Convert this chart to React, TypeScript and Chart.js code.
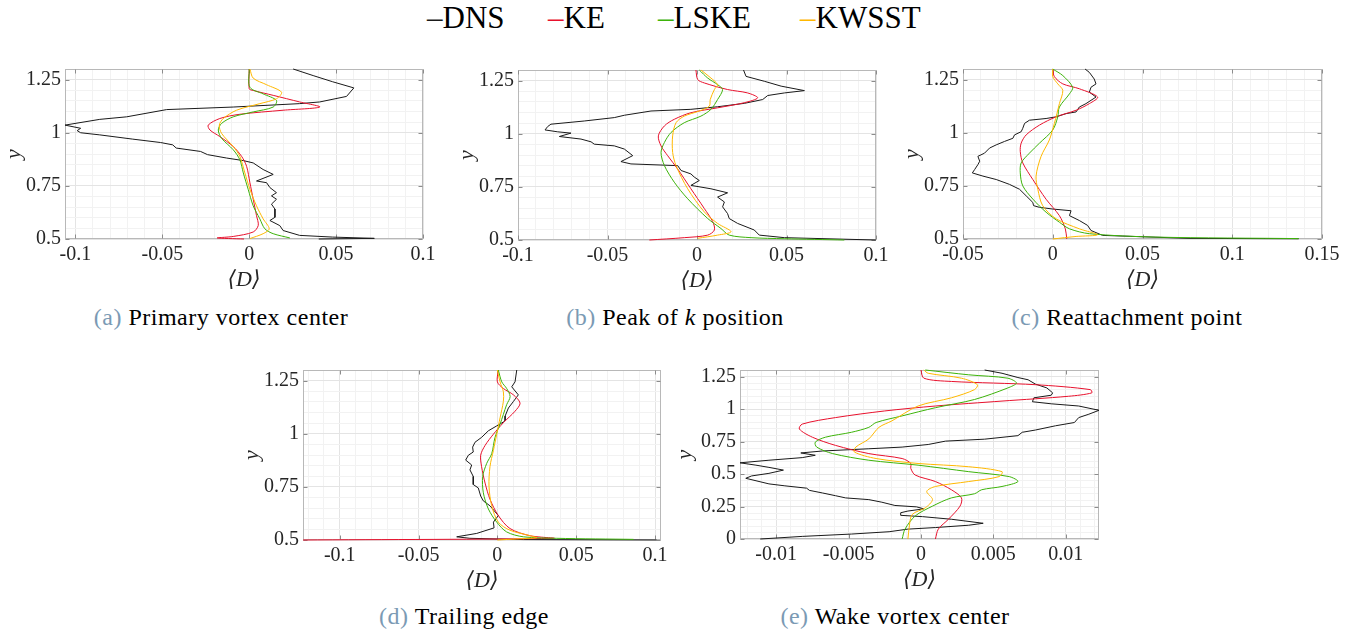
import React, { useEffect, useRef } from 'react';
import { Chart, registerables } from 'chart.js';

Chart.register(...registerables);

type Pt = [number, number]; // [<D>, y]

// ---------------- data ----------------
const SERIES_NAMES = ['DNS', 'KE', 'LSKE', 'KWSST'];

// (a) Primary vortex center
const aDNS: Pt[] = [[0.0253,1.3],[0.0368,1.269],[0.048,1.24],[0.0602,1.211],[0.056,1.171],[0.0406,1.145],[0.029,1.137],[-0.0092,1.121],[-0.0475,1.109],[-0.0705,1.075],[-0.086,1.063],[-0.106,1.036],[-0.097,1.021],[-0.099,1.01],[-0.097,1.0],[-0.086,0.99],[-0.067,0.97],[-0.051,0.954],[-0.044,0.943],[-0.042,0.928],[-0.028,0.912],[-0.024,0.897],[-0.013,0.881],[-0.0034,0.869],[0.0023,0.858],[0.008,0.827],[0.0138,0.804],[0.0042,0.773],[0.01,0.765],[0.0119,0.742],[0.0157,0.718],[0.0128,0.703],[0.0157,0.687],[0.0128,0.664],[0.0148,0.641],[0.0148,0.602],[0.0119,0.587],[0.0176,0.563],[0.0195,0.54],[0.029,0.517],[0.048,0.509],[0.072,0.503],[0.04,0.5]];
const aKE: Pt[] = [[0,1.3],[0,1.207],[0.0023,1.199],[0.0138,1.176],[0.029,1.145],[0.0406,1.121],[0.0195,1.106],[-0.0054,1.087],[-0.0169,1.067],[-0.0236,1.036],[-0.0226,1.013],[-0.0169,0.982],[-0.0092,0.935],[-0.0044,0.889],[-0.0015,0.842],[0.0004,0.765],[0.0023,0.687],[0.0042,0.61],[0.0052,0.564],[0.0023,0.533],[-0.0092,0.512],[-0.0184,0.505],[-0.003,0.5]];
const aLSKE: Pt[] = [[0,1.3],[0.0004,1.214],[0.008,1.183],[0.0157,1.152],[0.0138,1.121],[0.0023,1.098],[-0.0092,1.075],[-0.0159,1.044],[-0.0178,1.013],[-0.0159,0.974],[-0.0092,0.92],[-0.0054,0.873],[-0.0034,0.811],[-0.0006,0.734],[0.0023,0.656],[0.0061,0.595],[0.009,0.548],[0.0138,0.525],[0.0234,0.505]];
const aKWSST: Pt[] = [[0.0004,1.3],[0.0023,1.257],[0.01,1.226],[0.0186,1.191],[0.0157,1.16],[0.0061,1.137],[-0.0073,1.106],[-0.0149,1.067],[-0.0172,1.036],[-0.0159,0.997],[-0.0092,0.935],[-0.0054,0.889],[-0.0025,0.811],[0.0004,0.734],[0.0042,0.656],[0.008,0.595],[0.0115,0.548],[0.008,0.525],[0.0004,0.502]];

// (b) Peak of k position
const bDNS: Pt[] = [[0.026,1.3],[0.0274,1.27],[0.0376,1.247],[0.047,1.224],[0.06,1.203],[0.0488,1.192],[0.0395,1.18],[0.0367,1.161],[0.0264,1.143],[0.0115,1.127],[-0.0034,1.115],[-0.0257,1.107],[-0.0406,1.087],[-0.0462,1.076],[-0.063,1.06],[-0.0816,1.045],[-0.0834,1.034],[-0.0849,1.018],[-0.0778,1.009],[-0.0704,1.003],[-0.0769,0.987],[-0.0648,0.975],[-0.0592,0.962],[-0.0574,0.951],[-0.0462,0.943],[-0.0406,0.928],[-0.0359,0.897],[-0.0425,0.869],[-0.0369,0.858],[-0.0108,0.85],[-0.0089,0.827],[-0.0034,0.811],[-0.0015,0.796],[0.0013,0.78],[-0.0034,0.757],[0.0078,0.741],[0.0171,0.722],[0.0115,0.702],[0.0153,0.679],[0.0143,0.656],[0.0171,0.624],[0.018,0.601],[0.0227,0.578],[0.032,0.547],[0.0348,0.523],[0.0488,0.511],[0.1,0.5]];
const bKE: Pt[] = [[-0.0006,1.3],[0.0004,1.255],[0.0041,1.239],[0.0171,1.208],[0.0283,1.192],[0.0339,1.169],[0.0264,1.146],[0.0115,1.122],[-0.0034,1.099],[-0.0127,1.068],[-0.0182,1.037],[-0.0216,0.99],[-0.0201,0.943],[-0.0164,0.897],[-0.0108,0.834],[-0.0034,0.741],[0.0041,0.648],[0.0088,0.586],[0.0097,0.547],[0.006,0.523],[-0.0071,0.511],[-0.0266,0.5]];
const bLSKE: Pt[] = [[0.0013,1.3],[0.006,1.262],[0.0115,1.231],[0.0143,1.208],[0.0115,1.161],[0.0078,1.115],[0.0022,1.083],[-0.0071,1.052],[-0.0145,1.006],[-0.0182,0.959],[-0.0201,0.912],[-0.0182,0.85],[-0.0127,0.772],[-0.0052,0.694],[0.006,0.601],[0.0134,0.554],[0.018,0.523],[0.0302,0.511],[0.0488,0.506],[0.0823,0.5]];
const bKWSST: Pt[] = [[0.0022,1.3],[0.0078,1.262],[0.0115,1.231],[0.0097,1.208],[0.0074,1.161],[0.0069,1.13],[0.0013,1.107],[-0.0071,1.083],[-0.0117,1.052],[-0.0136,0.99],[-0.0136,0.912],[-0.0117,0.85],[-0.0052,0.741],[0.0041,0.632],[0.0115,0.578],[0.019,0.539],[0.0115,0.523],[0.0004,0.508]];

// (c) Reattachment point
const cDNS: Pt[] = [[0.018,1.3],[0.0204,1.284],[0.0231,1.253],[0.0241,1.23],[0.0213,1.214],[0.0204,1.191],[0.0241,1.168],[0.0185,1.137],[0.0148,1.121],[0.013,1.098],[0.0074,1.09],[0.0019,1.075],[-0.0037,1.067],[-0.013,1.059],[-0.0157,1.044],[-0.0167,1.021],[-0.0176,1.005],[-0.0213,0.99],[-0.0222,0.974],[-0.0269,0.959],[-0.0315,0.943],[-0.0352,0.928],[-0.038,0.904],[-0.0417,0.889],[-0.0407,0.866],[-0.0417,0.85],[-0.0435,0.827],[-0.0448,0.811],[-0.0389,0.796],[-0.0315,0.78],[-0.0241,0.757],[-0.0185,0.734],[-0.0148,0.703],[-0.0111,0.672],[-0.0107,0.657],[-0.0074,0.649],[0,0.641],[0.0102,0.633],[0.0093,0.61],[0.0148,0.587],[0.0194,0.564],[0.0213,0.54],[0.0278,0.517],[0.0759,0.503],[0.137,0.501]];
const cKE: Pt[] = [[0,1.3],[0.0009,1.264],[0.0056,1.23],[0.0148,1.207],[0.025,1.168],[0.0204,1.137],[0.013,1.106],[0.0019,1.075],[-0.0074,1.036],[-0.0148,0.99],[-0.0176,0.951],[-0.0181,0.912],[-0.0167,0.858],[-0.0111,0.78],[-0.0037,0.687],[0.0037,0.61],[0.007,0.548],[0.0078,0.5]];
const cLSKE: Pt[] = [[0,1.3],[0.0056,1.269],[0.0111,1.214],[0.0093,1.183],[0.0037,1.121],[0.0028,1.075],[0,1.013],[-0.0074,0.951],[-0.013,0.904],[-0.0176,0.858],[-0.0181,0.811],[-0.0167,0.75],[-0.0111,0.688],[-0.0037,0.626],[0.0037,0.579],[0.0093,0.548],[0.0204,0.525],[0.0574,0.509],[0.137,0.502]];
const cKWSST: Pt[] = [[0,1.3],[0,1.264],[0.0028,1.23],[0.0056,1.199],[0.0037,1.137],[0.0009,1.044],[-0.0019,0.966],[-0.0065,0.889],[-0.0093,0.796],[-0.0083,0.734],[-0.0056,0.657],[0.0019,0.595],[0.0148,0.548],[0.025,0.52],[0.013,0.512],[0,0.5]];

// (d) Trailing edge
const dDNS: Pt[] = [[0.0123,1.3],[0.0112,1.244],[0.0091,1.221],[0.0133,1.183],[0.0102,1.152],[0.007,1.121],[0.0049,1.083],[0.0049,1.06],[-0.0004,1.037],[-0.0057,1.014],[-0.01,0.983],[-0.0142,0.96],[-0.0157,0.937],[-0.0153,0.914],[-0.0184,0.899],[-0.0201,0.876],[-0.0163,0.853],[-0.0174,0.83],[-0.0153,0.799],[-0.0153,0.761],[-0.0121,0.745],[-0.0106,0.707],[-0.0089,0.684],[-0.0047,0.661],[0.0006,0.615],[-0.0025,0.584],[-0.0021,0.557],[-0.0131,0.531],[-0.0258,0.515],[-0.0174,0.508],[0.0165,0.502],[0.101,0.5]];
const dKE: Pt[] = [[0.0006,1.3],[0,1.244],[0.0038,1.213],[0.0102,1.183],[0.0144,1.144],[0.0112,1.106],[0.0038,1.052],[-0.0025,0.998],[-0.0078,0.945],[-0.0106,0.899],[-0.01,0.845],[-0.0078,0.768],[-0.0047,0.692],[0.0006,0.615],[0.008,0.554],[0.0208,0.52],[0.0356,0.508],[-0.1233,0.5]];
const dLSKE: Pt[] = [[0.0006,1.3],[0.0028,1.244],[0.0059,1.213],[0.0081,1.175],[0.0059,1.137],[0.0038,1.091],[0.0017,1.045],[-0.0015,0.983],[-0.0036,0.906],[-0.0068,0.86],[-0.0093,0.799],[-0.0089,0.722],[-0.0057,0.646],[-0.0004,0.584],[0.0059,0.538],[0.0165,0.515],[0.0377,0.508],[0.0864,0.503]];
const dKWSST: Pt[] = [[0,1.3],[0.0017,1.244],[0.0038,1.198],[0.0038,1.152],[0.0017,1.075],[-0.0004,0.998],[-0.0025,0.922],[-0.0047,0.845],[-0.0053,0.753],[-0.0036,0.661],[0.0006,0.584],[0.008,0.546],[0.0208,0.52],[0.025,0.511],[0.0123,0.505],[0,0.5]];

// (e) Wake vortex center
const eDNS: Pt[] = [[-0.0111,0],[-0.0082,0.02],[-0.0048,0.038],[-0.0022,0.056],[-0.0009,0.076],[0.001,0.088],[0.0033,0.106],[0.0043,0.121],[0.0021,0.152],[0.0001,0.172],[-0.0014,0.182],[-0.0014,0.202],[-0.0009,0.215],[0.0002,0.232],[-0.0003,0.247],[-0.0018,0.258],[-0.0027,0.283],[-0.0036,0.303],[-0.0052,0.316],[-0.0059,0.333],[-0.0068,0.354],[-0.0077,0.374],[-0.0079,0.391],[-0.0094,0.409],[-0.0105,0.424],[-0.0121,0.467],[-0.0117,0.485],[-0.0105,0.505],[-0.0095,0.53],[-0.0105,0.551],[-0.0114,0.568],[-0.0125,0.586],[-0.0105,0.606],[-0.0082,0.626],[-0.0073,0.644],[-0.0083,0.662],[-0.0068,0.677],[-0.0036,0.694],[-0.0013,0.707],[0.0005,0.727],[0.0017,0.753],[0.0044,0.768],[0.0067,0.795],[0.007,0.821],[0.0079,0.838],[0.0093,0.871],[0.0106,0.896],[0.0109,0.934],[0.0116,0.96],[0.0123,0.99],[0.0109,1.023],[0.009,1.04],[0.0077,1.056],[0.0078,1.086],[0.009,1.106],[0.0091,1.124],[0.0087,1.162],[0.0079,1.192],[0.0074,1.225],[0.0067,1.242],[0.0056,1.275],[0.0044,1.3]];
const eKE: Pt[] = [[0.001,0],[0.0012,0.076],[0.0019,0.152],[0.0027,0.253],[0.0028,0.316],[0.0021,0.379],[0.001,0.442],[-0.0004,0.492],[-0.0007,0.543],[-0.0007,0.581],[-0.0013,0.619],[-0.0036,0.657],[-0.0059,0.72],[-0.0075,0.783],[-0.0084,0.846],[-0.0082,0.884],[-0.0059,0.934],[-0.0025,0.985],[0.001,1.023],[0.0056,1.061],[0.0102,1.098],[0.0118,1.124],[0.0117,1.149],[0.0079,1.187],[0.0021,1.212],[0.0002,1.237],[0,1.3]];
const eLSKE: Pt[] = [[-0.0013,0],[-0.0011,0.076],[-0.0004,0.177],[0.0008,0.253],[0.0021,0.316],[0.0037,0.348],[0.0042,0.379],[0.0056,0.404],[0.0067,0.442],[0.0061,0.48],[0.0033,0.518],[-0.0002,0.568],[-0.0036,0.606],[-0.0061,0.657],[-0.0072,0.707],[-0.0073,0.745],[-0.0066,0.783],[-0.0048,0.821],[-0.0036,0.859],[-0.0031,0.896],[-0.0013,0.947],[0.001,1.01],[0.0037,1.073],[0.006,1.162],[0.0066,1.2],[0.006,1.237],[0.0033,1.263],[0.0003,1.3]];
const eKWSST: Pt[] = [[-0.0009,0],[-0.0008,0.101],[-0.0006,0.189],[0.0003,0.24],[0.0008,0.303],[0.0004,0.366],[0.001,0.404],[0.0033,0.442],[0.0054,0.48],[0.0056,0.518],[0.0033,0.556],[-0.0002,0.581],[-0.0031,0.619],[-0.0046,0.669],[-0.0045,0.707],[-0.0036,0.77],[-0.0029,0.859],[-0.002,0.909],[-0.0002,1.023],[0.0021,1.086],[0.0037,1.149],[0.0039,1.187],[0.0028,1.237],[0.0005,1.275],[0.0002,1.3]];

// axis limits and tick steps: [min, max, majorStep, minorStep]
const X_AXES: [number, number, number, number][] = [
  [-0.106, 0.1, 0.05, 0.01],
  [-0.1, 0.1, 0.05, 0.01],
  [-0.05, 0.15, 0.05, 0.01],
  [-0.1233, 0.1038, 0.05, 0.01],
  [-0.0125, 0.0123, 0.005, 0.001],
];
const Y_AXES: [number, number, number, number][] = [
  [0.5, 1.3, 0.25, 0.05],
  [0.5, 1.3, 0.25, 0.05],
  [0.5, 1.3, 0.25, 0.05],
  [0.5, 1.3, 0.25, 0.05],
  [0, 1.3, 0.25, 0.05],
];
const PANEL_DATA: Pt[][][] = [
  [aDNS, aKE, aLSKE, aKWSST],
  [bDNS, bKE, bLSKE, bKWSST],
  [cDNS, cKE, cLSKE, cKWSST],
  [dDNS, dKE, dLSKE, dKWSST],
  [eDNS, eKE, eLSKE, eKWSST],
];
const CAPTION_TAGS = ['(a)', '(b)', '(c)', '(d)', '(e)'];
const CAPTION_TEXTS = ['Primary vortex center', 'Peak of k position', 'Reattachment point', 'Trailing edge', 'Wake vortex center'];
const X_TITLE = '⟨D⟩';
const Y_TITLE = 'y';

// ---------------- layout & style ----------------
const FONT = "'Liberation Serif', 'DejaVu Serif', 'Noto Serif', 'Tinos', 'FreeSerif', 'Nimbus Roman', 'Times New Roman', serif";
const TEXT = '#262626';
const COLORS = ['#1a1a1a', '#e8112d', '#3db30a', '#ffb800'];
const GRID_MAJOR = '#e4e4e4';
const GRID_MINOR = '#f2f2f2';
const BOX = '#b8b8b8';
// plot rectangles in page pixels: left, top, right, bottom, y-axis band width
const RECTS = [
  { l: 65, t: 67, r: 423, b: 239, yw: 62 },
  { l: 518, t: 68, r: 876, b: 240, yw: 62 },
  { l: 963, t: 67, r: 1322, b: 239, yw: 62 },
  { l: 303, t: 368, r: 661, b: 540, yw: 62 },
  { l: 740, t: 368, r: 1099, b: 539, yw: 66 },
];
const CAPTION_POS = [
  { c: 221, t: 305 },
  { c: 675, t: 305 },
  { c: 1127, t: 305 },
  { c: 464, t: 604 },
  { c: 895, t: 604 },
];
const LEGEND_LEFT = [427, 548, 658, 800];
const PAD_TOP = 14;
const PAD_RIGHT = 24;
const X_BAND = 52;

function tickValues(min: number, max: number, step: number): number[] {
  const out: number[] = [];
  const k0 = Math.ceil(min / step - 1e-9);
  const k1 = Math.floor(max / step + 1e-9);
  for (let k = k0; k <= k1; k++) out.push(Number((k * step).toFixed(6)));
  return out;
}
function isMajor(v: number, step: number) {
  const q = v / step;
  return Math.abs(q - Math.round(q)) < 1e-6;
}
function fmt(v: number) {
  const n = Number(v.toFixed(6));
  return (n === 0 ? 0 : n).toString();
}

// MATLAB-like axes box with inward tick marks, drawn beneath the data lines
const boxPlugin = {
  id: 'matlabBox',
  beforeDatasetsDraw(chart: any, _args: any, opts: any) {
    const { ctx, chartArea } = chart;
    const { left, top, right, bottom } = chartArea;
    const xs = chart.scales.x;
    const ys = chart.scales.y;
    ctx.save();
    ctx.strokeStyle = BOX;
    ctx.lineWidth = 1;
    const L = Math.round(left) + 0.5, T = Math.round(top) + 0.5;
    const R = Math.round(right) - 0.5, B = Math.round(bottom) - 0.5;
    ctx.strokeRect(L, T, R - L, B - T);
    ctx.strokeStyle = '#8c8c8c';
    ctx.beginPath();
    const len = 4;
    for (const v of tickValues(xs.min, xs.max, opts.xMajor)) {
      const px = Math.round(xs.getPixelForValue(v)) + 0.5;
      ctx.moveTo(px, B); ctx.lineTo(px, B - len);
      ctx.moveTo(px, T); ctx.lineTo(px, T + len);
    }
    for (const v of tickValues(ys.min, ys.max, opts.yMajor)) {
      const py = Math.round(ys.getPixelForValue(v)) + 0.5;
      ctx.moveTo(L, py); ctx.lineTo(L + len, py);
      ctx.moveTo(R, py); ctx.lineTo(R - len, py);
    }
    ctx.stroke();
    ctx.restore();
  },
};

function Panel({ idx }: { idx: number }) {
  const ref = useRef<HTMLCanvasElement | null>(null);
  const rc = RECTS[idx];
  const w = rc.r - rc.l + rc.yw + PAD_RIGHT;
  const h = rc.b - rc.t + PAD_TOP + X_BAND;
  useEffect(() => {
    if (!ref.current) return;
    const [xMin, xMax, xMaj, xMin2] = X_AXES[idx];
    const [yMin, yMax, yMaj, yMin2] = Y_AXES[idx];
    const datasets = PANEL_DATA[idx].map((pts, si) => ({
      label: SERIES_NAMES[si],
      data: pts.map(([x, y]) => ({ x, y })),
      showLine: true,
      borderColor: COLORS[si],
      backgroundColor: COLORS[si],
      borderWidth: 1,
      pointRadius: 0,
      pointHoverRadius: 0,
      tension: si === 0 ? 0 : 0.3,
      fill: false,
      clip: 2,
      order: 3 - si,
    }));
    const tickFont = { family: FONT, size: 20 };
    const titleFont = { family: FONT, size: 22, style: 'italic' as const, lineHeight: 1 };
    const chart = new Chart(ref.current, {
      type: 'scatter',
      data: { datasets },
      plugins: [boxPlugin],
      options: {
        animation: false,
        responsive: false,
        maintainAspectRatio: false,
        devicePixelRatio: 1,
        layout: { padding: { top: PAD_TOP, right: PAD_RIGHT, left: 0, bottom: 0 } },
        plugins: {
          legend: { display: false },
          tooltip: { enabled: false },
          // @ts-ignore
          matlabBox: { xMajor: xMaj, yMajor: yMaj },
        },
        scales: {
          x: {
            type: 'linear',
            min: xMin,
            max: xMax,
            afterBuildTicks: (s: any) => {
              s.ticks = tickValues(xMin, xMax, xMin2).map((v) => ({ value: v }));
            },
            afterFit: (s: any) => { s.height = X_BAND; },
            grid: {
              color: (c: any) => (c.tick && isMajor(c.tick.value, xMaj) ? GRID_MAJOR : GRID_MINOR),
              drawTicks: false,
              lineWidth: 1,
            },
            border: { display: false },
            ticks: {
              autoSkip: false,
              maxRotation: 0,
              minRotation: 0,
              padding: 4,
              color: TEXT,
              font: tickFont,
              callback: (v: any) => (isMajor(Number(v), xMaj) ? fmt(Number(v)) : ''),
            },
            title: { display: true, text: X_TITLE, color: TEXT, font: titleFont, padding: 0 },
          },
          y: {
            type: 'linear',
            min: yMin,
            max: yMax,
            afterBuildTicks: (s: any) => {
              s.ticks = tickValues(yMin, yMax, yMin2).map((v) => ({ value: v }));
            },
            afterFit: (s: any) => { s.width = rc.yw; },
            grid: {
              color: (c: any) => (c.tick && isMajor(c.tick.value, yMaj) ? GRID_MAJOR : GRID_MINOR),
              drawTicks: false,
              lineWidth: 1,
            },
            border: { display: false },
            ticks: {
              autoSkip: false,
              padding: 4,
              color: TEXT,
              font: tickFont,
              callback: (v: any) => (isMajor(Number(v), yMaj) ? fmt(Number(v)) : ''),
            },
            title: { display: true, text: Y_TITLE, color: TEXT, font: titleFont, padding: 0 },
          },
        },
      } as any,
    });
    return () => chart.destroy();
  }, [idx]);
  return (
    <canvas
      ref={ref}
      width={w}
      height={h}
      style={{
        position: 'absolute',
        left: rc.l - rc.yw,
        top: rc.t - PAD_TOP,
        width: w,
        height: h,
        display: 'block',
      }}
    />
  );
}

function Caption({ idx }: { idx: number }) {
  const p = CAPTION_POS[idx];
  const text = CAPTION_TEXTS[idx];
  let body: React.ReactNode = text;
  if (text.includes(' k ')) {
    const [pre, post] = text.split(' k ');
    body = (<>{pre} <i>k</i> {post}</>);
  }
  return (
    <div
      style={{
        position: 'absolute',
        left: p.c,
        top: p.t,
        transform: 'translateX(-50%)',
        fontSize: 24,
        lineHeight: '24px',
        letterSpacing: '0.5px',
        whiteSpace: 'nowrap',
        color: '#000',
      }}
    >
      <span style={{ color: '#7b9ab4' }}>{CAPTION_TAGS[idx]}</span> {body}
    </div>
  );
}

export default function App() {
  return (
    <div
      style={{
        position: 'absolute',
        left: 0,
        top: 0,
        width: 1365,
        height: 637,
        background: '#ffffff',
        fontFamily: FONT,
        overflow: 'hidden',
      }}
    >
      {SERIES_NAMES.map((n, i) => (
        <span
          key={n}
          style={{
            position: 'absolute',
            left: LEGEND_LEFT[i],
            top: 2,
            fontSize: 31,
            lineHeight: '31px',
            whiteSpace: 'nowrap',
            color: '#000',
          }}
        >
          <span style={{ color: COLORS[i] }}>–</span>
          {n}
        </span>
      ))}
      {RECTS.map((_, i) => (
        <Panel key={'p' + i} idx={i} />
      ))}
      {CAPTION_TEXTS.map((_, i) => (
        <Caption key={'c' + i} idx={i} />
      ))}
    </div>
  );
}
